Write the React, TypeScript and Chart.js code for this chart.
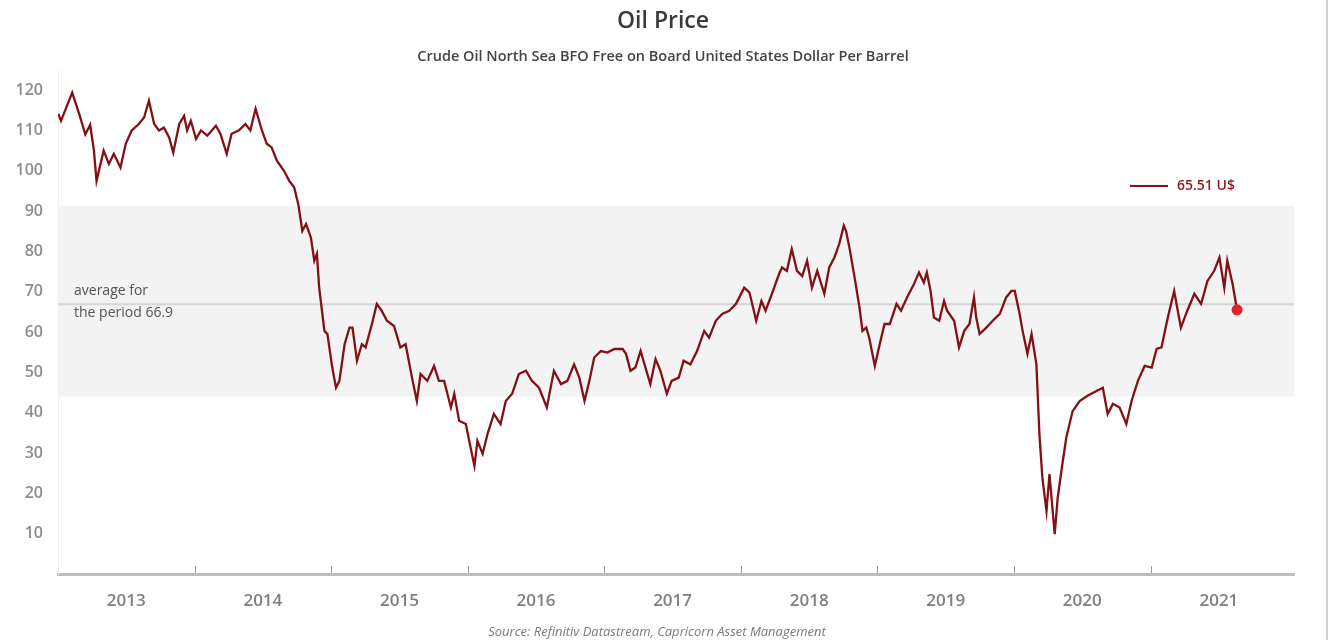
import { useEffect, useRef } from "react";
import { Chart, registerables } from "chart.js";

Chart.register(...registerables);

const TITLE = "Oil Price";
const SUBTITLE = "Crude Oil North Sea BFO Free on Board United States Dollar Per Barrel";
const SOURCE = "Source: Refinitiv Datastream, Capricorn Asset Management";
const AVERAGE_LINES = ["average for", "the period 66.9"];
const UNIT = "U$";

const YEARS = [2013, 2014, 2015, 2016, 2017, 2018, 2019, 2020, 2021];
const Y_TICKS = [10, 20, 30, 40, 50, 60, 70, 80, 90, 100, 110, 120];
const AVERAGE = 66.9;
const BAND_LOW = 44.0;
const BAND_HIGH = 91.3;

const DATES = [
  "2013-01-02", "2013-01-09", "2013-02-08", "2013-02-27", "2013-03-15", "2013-03-28", "2013-04-07", "2013-04-14",
  "2013-05-03", "2013-05-17", "2013-05-30", "2013-06-17", "2013-07-01", "2013-07-17", "2013-08-05", "2013-08-19",
  "2013-09-01", "2013-09-15", "2013-09-28", "2013-10-11", "2013-10-25", "2013-11-05", "2013-11-21", "2013-12-04",
  "2013-12-12", "2013-12-22",
  "2014-01-05", "2014-01-18", "2014-02-04", "2014-02-27", "2014-03-11", "2014-03-28", "2014-04-10", "2014-04-29",
  "2014-05-17", "2014-05-30", "2014-06-13", "2014-06-30", "2014-07-13", "2014-07-26", "2014-08-09", "2014-08-28",
  "2014-09-11", "2014-09-24", "2014-10-05", "2014-10-16", "2014-10-26", "2014-11-08", "2014-11-17", "2014-11-24",
  "2014-11-30", "2014-12-14", "2014-12-22",
  "2015-01-04", "2015-01-14", "2015-01-23", "2015-02-06", "2015-02-19", "2015-02-27", "2015-03-11", "2015-03-24",
  "2015-04-03", "2015-04-20", "2015-05-03", "2015-05-16", "2015-05-30", "2015-06-18", "2015-07-05", "2015-07-19",
  "2015-08-05", "2015-08-18", "2015-08-28", "2015-09-15", "2015-10-03", "2015-10-16", "2015-10-30", "2015-11-17",
  "2015-11-26", "2015-12-09", "2015-12-27",
  "2016-01-05", "2016-01-19", "2016-01-27", "2016-02-10", "2016-02-23", "2016-03-11", "2016-03-29", "2016-04-12",
  "2016-04-29", "2016-05-17", "2016-06-05", "2016-06-21", "2016-07-10", "2016-07-31", "2016-08-19", "2016-09-07",
  "2016-09-24", "2016-10-12", "2016-10-26", "2016-11-09", "2016-11-22", "2016-12-05", "2016-12-23",
  "2017-01-09", "2017-01-28", "2017-02-19", "2017-02-28", "2017-03-12", "2017-03-25", "2017-04-08", "2017-04-21",
  "2017-05-04", "2017-05-18", "2017-05-31", "2017-06-17", "2017-06-30", "2017-07-19", "2017-08-01", "2017-08-19",
  "2017-09-06", "2017-09-25", "2017-10-08", "2017-10-26", "2017-11-12", "2017-12-01", "2017-12-19",
  "2018-01-10", "2018-01-24", "2018-02-11", "2018-02-25", "2018-03-08", "2018-03-25", "2018-04-13", "2018-04-21",
  "2018-05-04", "2018-05-17", "2018-05-31", "2018-06-14", "2018-06-27", "2018-07-10", "2018-07-24", "2018-08-12",
  "2018-08-25", "2018-09-08", "2018-09-21", "2018-10-03", "2018-10-09", "2018-10-18", "2018-11-01", "2018-11-14",
  "2018-11-22", "2018-12-02", "2018-12-10", "2018-12-25",
  "2019-01-07", "2019-01-20", "2019-02-03", "2019-02-21", "2019-03-05", "2019-03-21", "2019-04-09", "2019-04-22",
  "2019-05-05", "2019-05-13", "2019-05-23", "2019-06-01", "2019-06-15", "2019-06-28", "2019-07-06", "2019-07-25",
  "2019-08-07", "2019-08-21", "2019-09-04", "2019-09-16", "2019-09-22", "2019-10-01", "2019-10-19", "2019-11-05",
  "2019-11-24", "2019-12-11", "2019-12-25",
  "2020-01-03", "2020-01-16", "2020-01-24", "2020-02-06", "2020-02-17", "2020-03-01", "2020-03-09", "2020-03-17",
  "2020-03-28", "2020-04-05", "2020-04-19", "2020-04-27", "2020-05-07", "2020-05-20", "2020-06-06", "2020-06-25",
  "2020-07-16", "2020-08-09", "2020-08-26", "2020-09-08", "2020-09-22", "2020-10-10", "2020-10-28", "2020-11-11",
  "2020-11-28", "2020-12-16",
  "2021-01-04", "2021-01-17", "2021-01-30", "2021-02-16", "2021-03-05", "2021-03-23", "2021-04-09", "2021-04-28",
  "2021-05-16", "2021-06-02", "2021-06-20", "2021-07-04", "2021-07-17", "2021-07-25", "2021-08-08", "2021-08-20",
];

const PRICES = [
  114.1, 112.4, 119.4, 114.0, 109.0, 111.4, 105.0, 97.5,
  105.0, 101.7, 104.2, 100.8, 106.7, 110.0, 111.6, 113.2,
  117.4, 111.6, 110.0, 110.7, 108.3, 104.5, 111.6, 113.6,
  110.0, 112.4,
  107.9, 110.0, 108.7, 111.2, 109.2, 104.2, 109.2, 110.0,
  111.6, 110.0, 115.4, 110.0, 106.7, 105.8, 102.5, 100.0,
  97.5, 95.9, 91.8, 85.1, 86.8, 83.4, 77.7, 79.4,
  71.0, 60.3, 59.5,
  51.2, 46.2, 47.9, 57.0, 61.1, 61.1, 52.9, 57.0,
  56.2, 62.0, 67.0, 65.3, 62.8, 61.5, 56.2, 57.0,
  48.7, 42.9, 49.6, 47.9, 51.6, 47.9, 47.9, 41.3,
  44.7, 38.0, 37.2,
  33.0, 26.8, 33.0, 29.8, 34.7, 39.7, 37.2, 42.9,
  44.7, 49.6, 50.4, 47.9, 46.2, 41.3, 50.4, 47.1,
  47.9, 52.0, 48.7, 42.9, 47.9, 53.7, 55.3,
  54.9, 55.8, 55.8, 54.6, 50.4, 51.2, 55.3, 51.2,
  47.1, 53.3, 50.4, 44.7, 47.9, 48.7, 52.9, 52.0,
  55.3, 60.3, 58.6, 62.8, 64.5, 65.3, 67.0,
  71.0, 69.8, 62.8, 67.7, 65.3, 69.5, 74.4, 76.0,
  75.2, 80.6, 75.2, 73.9, 77.7, 71.0, 75.2, 69.5,
  76.0, 78.5, 81.9, 86.4, 85.1, 81.0, 73.5, 66.1,
  60.3, 61.1, 58.6, 51.6,
  57.0, 62.0, 62.0, 67.0, 65.3, 68.6, 72.0, 74.8,
  72.3, 74.8, 70.2, 63.6, 62.8, 67.7, 65.3, 62.8,
  56.2, 60.3, 62.0, 68.6, 63.6, 59.5, 61.1, 62.8,
  64.5, 68.6, 70.2,
  70.2, 64.5, 60.3, 54.6, 59.5, 52.0, 34.7, 23.9,
  15.6, 24.8, 9.9, 18.9, 25.6, 33.8, 40.4, 42.9,
  44.2, 45.4, 46.2, 39.7, 42.2, 41.3, 37.2, 42.9,
  47.9, 51.6,
  51.2, 55.8, 56.2, 63.6, 70.2, 61.1, 65.3, 69.5,
  67.0, 72.7, 75.2, 78.5, 71.0, 77.7, 72.0, 65.51,
];

function toYear(s: string): number {
  const [y, m, d] = s.split("-").map(Number);
  const start = Date.UTC(y, 0, 1);
  const end = Date.UTC(y + 1, 0, 1);
  return y + (Date.UTC(y, m - 1, d) - start) / (end - start);
}

const FONT = "'Open Sans', 'Noto Sans', sans-serif";
const LINE_COLOR = "#821015";

export default function App() {
  const ref = useRef<HTMLCanvasElement | null>(null);

  useEffect(() => {
    document.body.style.margin = "0";
    const canvas = ref.current;
    if (!canvas) return;

    const points = DATES.map((d, i) => ({ x: toYear(d), y: PRICES[i] }));
    const last = points[points.length - 1];

    const overlay = {
      id: "overlay",
      beforeDatasetsDraw(chart: any) {
        const { ctx, chartArea } = chart;
        const ys = chart.scales.y;
        const top = ys.getPixelForValue(BAND_HIGH);
        const bottom = ys.getPixelForValue(BAND_LOW);
        ctx.save();
        ctx.fillStyle = "#f3f3f3";
        ctx.fillRect(chartArea.left, top, chartArea.right - chartArea.left, bottom - top);
        const ay = ys.getPixelForValue(AVERAGE);
        ctx.strokeStyle = "#d6d6d6";
        ctx.lineWidth = 2;
        ctx.beginPath();
        ctx.moveTo(chartArea.left, ay);
        ctx.lineTo(chartArea.right, ay);
        ctx.stroke();
        ctx.fillStyle = "#555555";
        ctx.font = `14px ${FONT}`;
        ctx.textAlign = "left";
        ctx.textBaseline = "middle";
        ctx.fillText(AVERAGE_LINES[0], chartArea.left + 16, ay - 13);
        ctx.fillText(AVERAGE_LINES[1], chartArea.left + 16, ay + 9);
        ctx.restore();
      },
      afterDatasetsDraw(chart: any) {
        const { ctx, chartArea } = chart;
        const xs = chart.scales.x;
        ctx.save();
        // year boundary tick marks
        ctx.strokeStyle = "#9a9a9a";
        ctx.lineWidth = 1;
        YEARS.slice(1).forEach((yr) => {
          const px = Math.round(xs.getPixelForValue(yr)) + 0.5;
          ctx.beginPath();
          ctx.moveTo(px, chartArea.bottom - 1);
          ctx.lineTo(px, chartArea.bottom - 8);
          ctx.stroke();
        });
        // legend
        const lx = chartArea.right - 164;
        const ly = chartArea.top + 116;
        ctx.strokeStyle = LINE_COLOR;
        ctx.lineWidth = 2;
        ctx.beginPath();
        ctx.moveTo(lx, ly);
        ctx.lineTo(lx + 38, ly);
        ctx.stroke();
        ctx.fillStyle = "#8a1a1f";
        ctx.font = `600 14px ${FONT}`;
        ctx.textAlign = "left";
        ctx.textBaseline = "middle";
        ctx.fillText(`${last.y.toFixed(2)} ${UNIT}`, lx + 47, ly);
        // source
        ctx.fillStyle = "#7a7a7a";
        ctx.font = `italic 13px ${FONT}`;
        ctx.textAlign = "center";
        ctx.fillText(SOURCE, 657, 632);
        ctx.restore();
      },
    };

    const chart = new Chart(canvas, {
      type: "line",
      data: {
        datasets: [
          {
            label: "Oil price",
            data: points,
            borderColor: LINE_COLOR,
            borderWidth: 2.3,
            pointRadius: 0,
            tension: 0,
            order: 2,
          },
          {
            label: "Last",
            data: [last],
            showLine: false,
            pointRadius: 5.5,
            pointBackgroundColor: "#e0232d",
            pointBorderWidth: 0,
            order: 1,
          },
        ],
      },
      options: {
        animation: false,
        responsive: true,
        maintainAspectRatio: false,
        layout: { padding: 0 },
        plugins: {
          legend: { display: false },
          tooltip: { enabled: false },
          title: {
            display: true,
            text: TITLE,
            color: "#3a3a3a",
            font: { family: FONT, size: 23, weight: "600" },
            padding: { top: 8, bottom: 0 },
          },
          subtitle: {
            display: true,
            text: SUBTITLE,
            color: "#444444",
            font: { family: FONT, size: 14.5, weight: "600" },
            padding: { top: 12.6, bottom: 4.4 },
          },
        },
        scales: {
          x: {
            type: "linear",
            min: YEARS[0],
            max: 2022.05,
            afterBuildTicks: (scale: any) => {
              scale.ticks = YEARS.map((y) => ({ value: y + 0.5 }));
            },
            afterFit: (scale: any) => {
              scale.height = 66;
            },
            ticks: {
              callback: (v: any) => String(Math.floor(Number(v))),
              color: "#7f7f7f",
              font: { family: FONT, size: 17, weight: "600" },
              padding: 17,
              maxRotation: 0,
              autoSkip: false,
            },
            grid: { display: false, drawTicks: false },
            border: { display: true, color: "#bdbdbd", width: 3 },
          },
          y: {
            min: 0,
            max: 125,
            afterBuildTicks: (scale: any) => {
              scale.ticks = Y_TICKS.map((v) => ({ value: v }));
            },
            afterFit: (scale: any) => {
              scale.width = 58;
            },
            ticks: {
              color: "#8c8c8c",
              font: { family: FONT, size: 16, weight: "600" },
              padding: 15,
            },
            grid: { display: false, drawTicks: false },
            border: { display: true, color: "#eeeeee", width: 1 },
          },
          spacer: {
            type: "linear",
            position: "right",
            display: true,
            afterFit: (scale: any) => {
              scale.width = 32;
            },
            ticks: { display: false },
            grid: { display: false, drawTicks: false },
            border: { display: false },
          },
        },
      },
      plugins: [overlay],
    });

    return () => chart.destroy();
  }, []);

  return (
    <div
      style={{
        width: 1326,
        height: 640,
        position: "relative",
        background: "#ffffff",
        borderRight: "2px solid #cfcfcf",
      }}
    >
      <canvas ref={ref} />
    </div>
  );
}
